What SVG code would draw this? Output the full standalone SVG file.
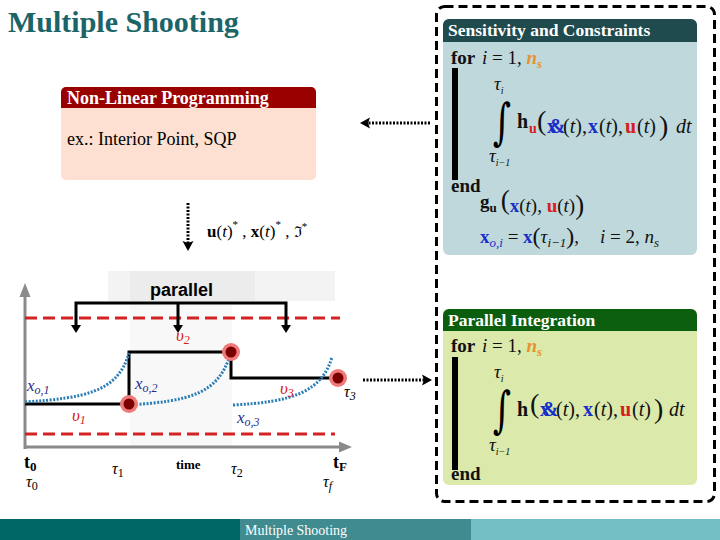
<svg xmlns="http://www.w3.org/2000/svg" width="720" height="540" viewBox="0 0 720 540">
<defs>
<style>
.serif{font-family:"Liberation Serif","Times New Roman",serif}
.title{font-family:"Liberation Serif",serif;font-weight:bold;font-size:30px;fill:#1b6468}
.hdr{font-family:"Liberation Serif",serif;font-weight:bold;fill:#fff}
.m{font-family:"Liberation Serif",serif;font-size:19px;fill:#111}
.m20{font-family:"Liberation Serif",serif;font-size:20px;fill:#111}
.it{font-style:italic}
.bd{font-weight:bold}
.blue{fill:#1a2fc8}
.red{fill:#d62020}
.org{fill:#e8922e}
.dkb{fill:#2b2b8c}
.dotted{stroke:#000;stroke-width:3;stroke-dasharray:2 1.5;fill:none}
.blu{stroke:#2a7db5;stroke-width:3;stroke-dasharray:2 1.5;fill:none}
.reddash{stroke:#d42222;stroke-width:3;stroke-dasharray:12 6;fill:none}
.step{stroke:#000;stroke-width:3;fill:none}
.axis{stroke:#8a8a8a;stroke-width:3;fill:none}
.bar{fill:#000}
.intg{font-family:"DejaVu Serif",serif;font-size:50px;fill:#000}
</style>
</defs>
<rect width="720" height="540" fill="#fff"/>

<text class="title" x="8" y="32">Multiple Shooting</text>

<g id="nlp">
<rect x="61" y="87" width="255" height="93" rx="5" fill="#fde0d2"/>
<path d="M61,108 V92 a5,5 0 0 1 5,-5 H311 a5,5 0 0 1 5,5 V108 Z" fill="#990000"/>
<text class="hdr" x="67" y="104" font-size="18">Non-Linear Programming</text>
<text class="serif" x="67" y="145" font-size="18" fill="#000">ex.: Interior Point, SQP</text>
</g>

<g id="outer-dashed">
<rect x="436.5" y="6.5" width="278" height="495" rx="8" fill="none" stroke="#000" stroke-width="3" stroke-dasharray="9 5"/>
</g>

<g id="sensitivity">
<rect x="443" y="19" width="254" height="236" rx="6" fill="#bfd8db"/>
<path d="M443,42 V25 a6,6 0 0 1 6,-6 H691 a6,6 0 0 1 6,6 V42 Z" fill="#1f4a4e"/>
<text class="hdr" x="448" y="36" font-size="17.5">Sensitivity and Constraints</text>
<text class="m" y="64"><tspan x="451" class="bd">for</tspan><tspan x="482" class="it">i</tspan><tspan> = 1, </tspan><tspan class="org bd it">n</tspan><tspan class="org bd it" font-size="13" dy="4">s</tspan></text>
<rect class="bar" x="452" y="68" width="6" height="112"/>
<text class="m it" x="494" y="90" font-size="15">τ<tspan font-size="10" dy="4">i</tspan></text>
<text class="intg" x="0" y="0" transform="translate(493,139) scale(0.7,1)">∫</text>
<text class="m it" x="489" y="162" font-size="15">τ<tspan font-size="10" dy="4">i−1</tspan></text>
<text class="m20" y="128"><tspan x="517" class="bd">h</tspan><tspan x="529" class="bd red" font-size="14" dy="5">u</tspan><tspan x="537" dy="-3" font-size="28">(</tspan><tspan x="547" dy="3" class="bd blue" letter-spacing="-8">x&amp;</tspan><tspan x="563">(</tspan><tspan class="it">t</tspan><tspan>),</tspan><tspan x="588" class="bd blue">x</tspan><tspan x="599">(</tspan><tspan class="it">t</tspan><tspan>),</tspan><tspan x="625" class="bd red">u</tspan><tspan x="637">(</tspan><tspan class="it">t</tspan><tspan>)</tspan><tspan x="659" dy="2" font-size="28">)</tspan><tspan x="676" dy="-2" class="it">dt</tspan></text>
<text class="m bd" x="451" y="192">end</text>
<text class="m" y="208"><tspan x="480" class="bd">g</tspan><tspan class="bd" font-size="13" dy="4">u</tspan><tspan dx="4" dy="-3" font-size="27">(</tspan><tspan dy="3" class="bd blue">x</tspan><tspan>(</tspan><tspan class="it">t</tspan><tspan>), </tspan><tspan class="bd red">u</tspan><tspan>(</tspan><tspan class="it">t</tspan><tspan>)</tspan><tspan dy="2" font-size="27">)</tspan></text>
<text class="m" y="243"><tspan x="480" class="bd blue">x</tspan><tspan class="it blue" font-size="13" dy="4">o,i</tspan><tspan dy="-4"> = </tspan><tspan class="bd blue">x</tspan><tspan font-size="24" dy="1">(</tspan><tspan dy="-1" class="it">τ</tspan><tspan class="it" font-size="13" dy="4">i−1</tspan><tspan font-size="24" dy="-3">)</tspan><tspan dy="-1">,</tspan><tspan x="600" class="it">i</tspan><tspan> = 2, </tspan><tspan class="it">n</tspan><tspan class="it" font-size="13" dy="4">s</tspan></text>
</g>

<g id="parallel-integration">
<rect x="443" y="309" width="254" height="176" rx="6" fill="#dbe9aa"/>
<path d="M443,331 V315 a6,6 0 0 1 6,-6 H691 a6,6 0 0 1 6,6 V331 Z" fill="#0a5e0e"/>
<text class="hdr" x="448" y="326" font-size="17.5">Parallel Integration</text>
<text class="m" y="352"><tspan x="451" class="bd">for</tspan><tspan x="482" class="it">i</tspan><tspan> = 1, </tspan><tspan class="org bd it">n</tspan><tspan class="org bd it" font-size="13" dy="4">s</tspan></text>
<rect class="bar" x="452" y="357" width="6" height="113"/>
<text class="m it" x="494" y="378" font-size="15">τ<tspan font-size="10" dy="4">i</tspan></text>
<text class="intg" x="0" y="0" transform="translate(493,427) scale(0.7,1)">∫</text>
<text class="m it" x="489" y="451" font-size="15">τ<tspan font-size="10" dy="4">i−1</tspan></text>
<text class="m20" y="416"><tspan x="517" class="bd">h</tspan><tspan x="530" dy="-3" font-size="28">(</tspan><tspan x="540" dy="3" class="bd blue" letter-spacing="-8">x&amp;</tspan><tspan x="556">(</tspan><tspan class="it">t</tspan><tspan>),</tspan><tspan x="583" class="bd blue">x</tspan><tspan x="594">(</tspan><tspan class="it">t</tspan><tspan>),</tspan><tspan x="620" class="bd red">u</tspan><tspan x="632">(</tspan><tspan class="it">t</tspan><tspan>)</tspan><tspan x="654" dy="2" font-size="28">)</tspan><tspan x="669" dy="-2" class="it">dt</tspan></text>
<text class="m bd" x="451" y="480">end</text>
</g>

<g id="chart">
<rect x="108" y="271" width="227" height="30" fill="#f3f3f3"/>
<rect x="130" y="271" width="125" height="30" fill="#ececec"/>
<rect x="130" y="301" width="102" height="146" fill="#f8f8f8"/>
<line class="axis" x1="25" y1="449" x2="25" y2="294"/>
<polygon points="25,283 19.5,297 30.5,297" fill="#8a8a8a"/>
<line class="axis" x1="24" y1="447" x2="342" y2="447"/>
<polygon points="352,447 339,441.5 339,452.5" fill="#8a8a8a"/>
<line class="reddash" x1="25" y1="318" x2="340" y2="318"/>
<line class="reddash" x1="25" y1="434" x2="335" y2="434"/>
<polyline class="step" points="25,404 129,404 129,352 231,352 231,378 338,378"/>
<path class="blu" d="M25,402 C85,398 118,392 129,353"/>
<path class="blu" d="M129,405 C190,401 218,394 230,355"/>
<path class="blu" d="M233,405 C292,402 322,392 332,357"/>
<g id="dots">
<circle cx="129" cy="404" r="9" fill="#f07a7a"/><circle cx="129" cy="404" r="5.5" fill="#7a0000"/>
<circle cx="231" cy="352" r="9" fill="#f07a7a"/><circle cx="231" cy="352" r="5.5" fill="#7a0000"/>
<circle cx="338" cy="378" r="9" fill="#f07a7a"/><circle cx="338" cy="378" r="5.5" fill="#7a0000"/>
</g>
<text class="serif it dkb" x="27" y="391" font-size="17">x<tspan font-size="12" dy="3">o,1</tspan></text>
<text class="serif it dkb" x="135" y="389" font-size="17">x<tspan font-size="12" dy="3">o,2</tspan></text>
<text class="serif it dkb" x="237" y="423" font-size="17">x<tspan font-size="12" dy="3">o,3</tspan></text>
<text class="serif it red" x="72" y="421" font-size="17">υ<tspan font-size="12" dy="3">1</tspan></text>
<text class="serif it red" x="176" y="341" font-size="17">υ<tspan font-size="12" dy="3">2</tspan></text>
<text class="serif it red" x="280" y="394" font-size="17">υ<tspan font-size="12" dy="3">3</tspan></text>
<text class="serif it" x="344" y="397" font-size="16">τ<tspan font-size="12" dy="3">3</tspan></text>
<text class="serif bd" x="24" y="468" font-size="18">t<tspan font-size="13" dy="3">0</tspan></text>
<text class="serif it" x="26" y="487" font-size="16">τ<tspan font-size="12" dy="3" font-style="normal">0</tspan></text>
<text class="serif it" x="112" y="474" font-size="16">τ<tspan font-size="12" dy="3" font-style="normal">1</tspan></text>
<text class="serif bd" x="176" y="469" font-size="13">time</text>
<text class="serif it" x="231" y="474" font-size="16">τ<tspan font-size="12" dy="3" font-style="normal">2</tspan></text>
<text class="serif bd" x="333" y="468" font-size="18">t<tspan font-size="13" dy="3">F</tspan></text>
<text class="serif it" x="323" y="487" font-size="16">τ<tspan font-size="12" dy="3">f</tspan></text>
</g>

<g id="parallel-bracket">
<text x="150" y="296" font-family="Liberation Sans,Arial,sans-serif" font-weight="bold" font-size="18" fill="#000">parallel</text>
<polyline class="step" points="76,326 76,303 286,303 286,326"/>
<line class="step" x1="178" y1="303" x2="178" y2="326"/>
<polygon points="71,325 81,325 76,333"/>
<polygon points="173,325 183,325 178,333"/>
<polygon points="281,325 291,325 286,333"/>
</g>

<g id="connectors">
<line class="dotted" x1="430" y1="123" x2="368" y2="123"/>
<polygon points="360,123 370,117.5 368,123 370,128.5"/>
<line class="dotted" x1="188" y1="203" x2="188" y2="243"/>
<polygon points="188,251 182.5,241 188,243 193.5,241"/>
<line class="dotted" x1="363" y1="380" x2="424" y2="380"/>
<polygon points="432,380 422,374.5 424,380 422,385.5"/>
</g>
<text class="serif" x="207" y="237" font-size="17" fill="#000"><tspan class="bd">u</tspan><tspan>(</tspan><tspan class="it">t</tspan><tspan>)</tspan><tspan font-size="11" dy="-9">*</tspan><tspan dy="9"> , </tspan><tspan class="bd">x</tspan><tspan>(</tspan><tspan class="it">t</tspan><tspan>)</tspan><tspan font-size="11" dy="-9">*</tspan><tspan dy="9"> , </tspan><tspan font-family="DejaVu Serif,serif" font-size="15">ℑ</tspan><tspan font-size="11" dy="-7">*</tspan></text>

<g id="footer">
<rect x="0" y="519" width="240" height="21" fill="#006666"/>
<rect x="240" y="519" width="231" height="21" fill="#3f8b90"/>
<rect x="471" y="519" width="249" height="21" fill="#72bec4"/>
<text x="245" y="535" font-family="Liberation Serif,serif" font-size="14" fill="#fff" textLength="102" lengthAdjust="spacingAndGlyphs">Multiple Shooting</text>
</g>
</svg>
